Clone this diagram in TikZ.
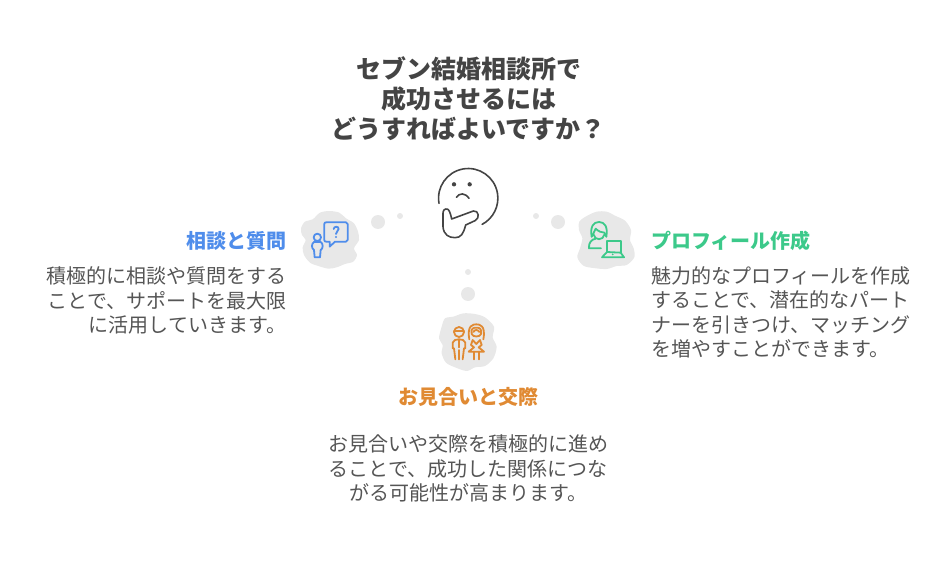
\documentclass[tikz,border=0pt]{standalone}
\usepackage{fontspec}
\setmainfont{Noto Sans CJK JP}
\definecolor{titlegray}{HTML}{444444}
\definecolor{bodygray}{HTML}{555555}
\definecolor{blobgray}{HTML}{E8E8E8}
\definecolor{iconblue}{HTML}{4F8DEB}
\definecolor{icongreen}{HTML}{3CC98A}
\definecolor{iconorange}{HTML}{E08A33}
\begin{document}
\begin{tikzpicture}
  [x=1pt,y=-1pt,
  bigdot/.style={circle,fill=blobgray,inner sep=0pt,minimum size=14pt},
  smalldot/.style={circle,fill=blobgray,inner sep=0pt,minimum size=6pt},
  maintitle/.style={text=titlegray,font=\fontsize{25}{30}\selectfont\bfseries,align=center,inner sep=0pt},
  heading/.style={font=\fontsize{20}{24}\selectfont\bfseries,inner sep=0pt},
  bodytext/.style={text=bodygray,font=\fontsize{20}{24.5}\selectfont,inner sep=0pt},
  icon/.style={line width=1.8pt,line cap=round,line join=round}]
  \useasboundingbox (0,0) rectangle (936,564);

  \node[maintitle] (title) at (468.5,98.5) {セブン結婚相談所で\\成功させるには\\どうすればよいですか？};

  % thinking face
  \begin{scope}[shift={(425,160)},scale=1/3,draw=titlegray,line width=1.6pt,line cap=round,line join=round]
    \draw (42,130) arc[start angle=170,end angle=422,radius=89];
    \fill[titlegray] (87,73) circle (6.5) (134,73) circle (6.5);
    \draw (94,112) .. controls (104,98) and (120,98) .. (132,115);
    \draw (80,177) .. controls (75,155) and (72,145) .. (62,147) .. controls (52,150) and (54,160) .. (54,175)
      -- (54,200) .. controls (56,225) and (72,233) .. (90,233) .. controls (108,233) and (115,222) .. (122,195)
      -- (150,182) .. controls (165,176) and (162,150) .. (145,153) -- cycle;
  \end{scope}

  % left item
  \node[smalldot] (leftsmall) at (400,216) {};
  \node[bigdot] (leftbig) at (378,222) {};
  \begin{scope}[shift={(290,160)},scale=1/3]
    \fill[blobgray] plot[smooth cycle] coordinates {(33,205) (45,185) (68,178) (90,158) (118,153) (148,158) (168,175) (192,190) (204,215) (207,240) (192,265) (201,285) (190,305) (165,312) (140,322) (115,326) (85,318) (60,308) (42,285) (38,262) (47,240) (36,225)};
    \begin{scope}[icon,draw=iconblue]
      \draw (109,187) -- (168,187) .. controls (172,187) and (173,188) .. (173,192) -- (173,240) .. controls (173,244) and (172,245) .. (168,245)
        -- (135,245) -- (119,260) -- (119,245) -- (109,245) .. controls (105,245) and (103,244) .. (103,240) -- (103,192) .. controls (103,188) and (105,187) .. (109,187) -- cycle;
      \draw (131,207) .. controls (132,198) and (146,198) .. (146,207) .. controls (146,213) and (138,214) .. (138,222);
      \fill[iconblue] (138,231) circle (3.5);
      \draw (82,232) circle (11);
      \draw (72,246) -- (92,246) .. controls (100,250) and (100,266) .. (92,270) -- (90,292) -- (74,292) -- (72,270) .. controls (64,266) and (64,250) .. (72,246) -- cycle;
    \end{scope}
  \end{scope}
  \node[heading,text=iconblue,anchor=east] (lefthead) at (286.5,241) {相談と質問};
  \node[bodytext,anchor=north east,align=right] (leftbody) at (286.5,266.5) {積極的に相談や質問をする\\ことで、サポートを最大限\\に活用していきます。};

  % right item
  \node[smalldot] (rightsmall) at (536,216) {};
  \node[bigdot] (rightbig) at (558,222) {};
  \begin{scope}[shift={(525,200)},scale=1/3]
    \fill[blobgray] plot[smooth cycle] coordinates {(163,65) (185,48) (215,35) (245,35) (270,47) (300,62) (318,90) (315,120) (326,145) (328,172) (305,195) (275,198) (245,207) (205,204) (175,197) (157,172) (165,145) (172,115) (162,90)};
    \begin{scope}[icon,draw=icongreen]
      \draw (200,110) .. controls (195,80) and (205,66) .. (222,66) .. controls (239,66) and (249,80) .. (244,110);
      \draw (200,110) .. controls (204,102) and (208,96) .. (212,86) .. controls (220,94) and (230,98) .. (238,98) -- (244,110);
      \draw (206,104) .. controls (208,122) and (236,122) .. (238,104);
      \draw (228,145) -- (192,145) .. controls (190,128) and (200,118) .. (212,116);
      \draw (246,156) -- (246,122) -- (287,122) -- (287,158);
      \draw (246,156) -- (231,172) -- (297,172) -- (287,158) -- cycle;
      \fill[icongreen] (263,163) circle (3);
    \end{scope}
  \end{scope}
  \node[heading,text=icongreen,anchor=west] (righthead) at (651,241) {プロフィール作成};
  \node[bodytext,anchor=north west,align=left] (rightbody) at (651,266) {魅力的なプロフィールを作成\\することで、潜在的なパート\\ナーを引きつけ、マッチング\\を増やすことができます。};

  % bottom item
  \node[smalldot] (bottomsmall) at (468,272) {};
  \node[bigdot] (bottombig) at (468,294) {};
  \begin{scope}[shift={(430,260)},scale=1/3]
    \fill[blobgray] plot[smooth cycle] coordinates {(45,175) (70,170) (100,160) (135,162) (165,172) (192,200) (188,232) (200,260) (190,295) (165,318) (135,322) (110,333) (75,322) (48,308) (35,280) (38,255) (27,235) (35,200)};
    \begin{scope}[icon,draw=iconorange]
      \draw (87,216) circle (15);
      \draw (72,212) -- (102,212);
      \draw (76,298) -- (72,265) -- (68,265) -- (68,248) .. controls (70,240) and (78,238) .. (87,238) .. controls (96,238) and (104,240) .. (106,248) -- (106,265) -- (102,265) -- (98,298);
      \draw (87,238) -- (87,262);
      \draw (87,270) -- (87,298);
      \draw (118,238) .. controls (110,195) and (130,193) .. (139,193) .. controls (148,193) and (168,195) .. (160,238);
      \draw (125,222) .. controls (122,205) and (130,203) .. (139,203) .. controls (148,203) and (156,205) .. (153,222) .. controls (150,232) and (128,232) .. (125,222) -- cycle;
      \draw (130,216) .. controls (134,208) and (144,208) .. (148,216);
      \draw (128,240) -- (139,252) -- (150,240) -- (155,255) -- (146,262) -- (162,275) -- (116,275) -- (132,262) -- (123,255) -- cycle;
      \draw (131,275) -- (131,298);
      \draw (147,275) -- (147,298);
    \end{scope}
  \end{scope}
  \node[heading,text=iconorange] (bottomhead) at (468,397) {お見合いと交際};
  \node[bodytext,anchor=north,align=center] (bottombody) at (468,434.5) {お見合いや交際を積極的に進め\\ることで、成功した関係につな\\がる可能性が高まります。};
\end{tikzpicture}
\end{document}
